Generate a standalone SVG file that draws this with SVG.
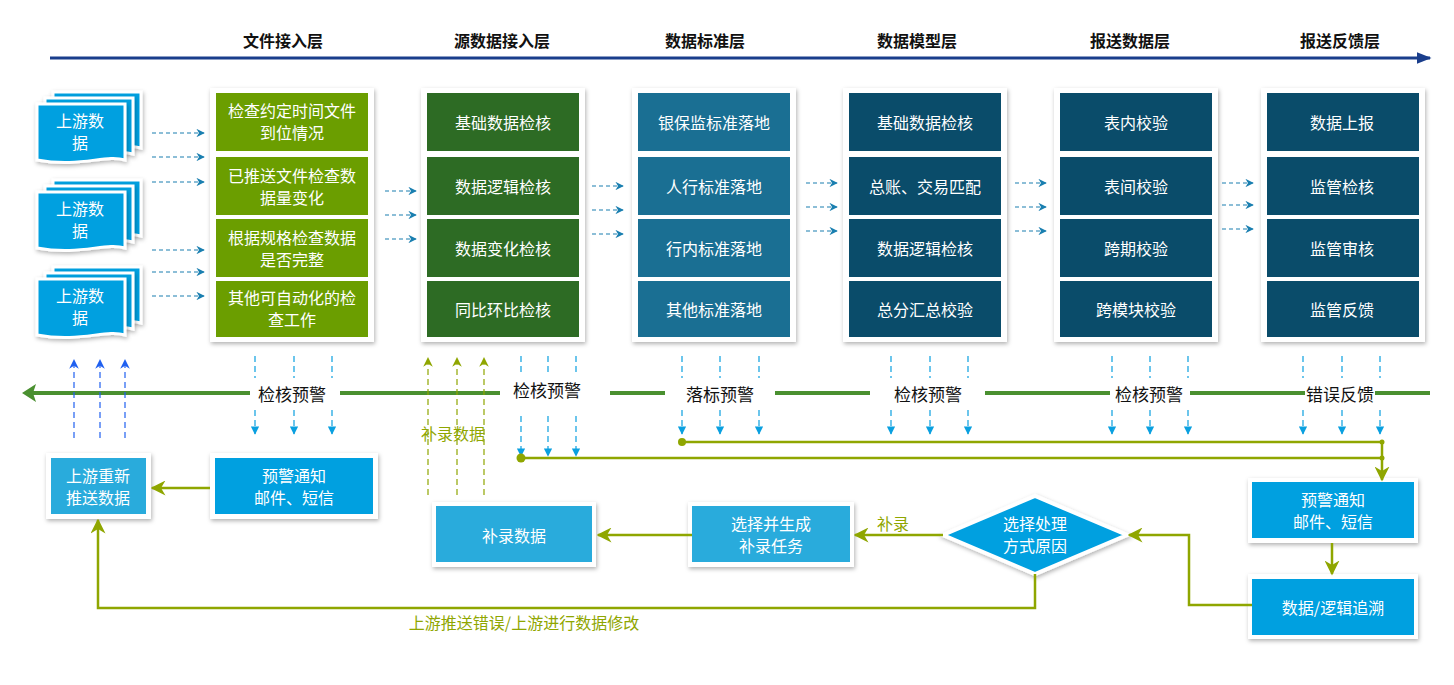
<svg xmlns="http://www.w3.org/2000/svg" width="1454" height="685" viewBox="0 0 1454 685">
<defs>
<filter id="sh" x="-10%" y="-10%" width="130%" height="130%"><feDropShadow dx="1" dy="2" stdDeviation="2" flood-color="#000" flood-opacity="0.3"/></filter>
<marker id="ab" viewBox="0 0 10 10" refX="9" refY="5" markerWidth="7" markerHeight="7" orient="auto"><path d="M0,0 L10,5 L0,10 L3,5z" fill="#1a7fb0"/></marker>
<marker id="ad" viewBox="0 0 10 10" refX="9" refY="5" markerWidth="7" markerHeight="7" orient="auto"><path d="M0,0 L10,5 L0,10z" fill="#0aa0e0"/></marker>
<marker id="au" viewBox="0 0 10 10" refX="9" refY="5" markerWidth="8" markerHeight="8" orient="auto"><path d="M0,0 L10,5 L0,10 L3,5z" fill="#2060f0"/></marker>
<marker id="ao" viewBox="0 0 10 10" refX="9" refY="5" markerWidth="6" markerHeight="6" orient="auto"><path d="M0,0 L10,5 L0,10 L3,5z" fill="#8fa600"/></marker>
<marker id="ao2" viewBox="0 0 10 10" refX="9" refY="5" markerWidth="8" markerHeight="8" orient="auto"><path d="M0,0 L10,5 L0,10 L3,5z" fill="#8fa600"/></marker>
<marker id="ag" viewBox="0 0 10 10" refX="9" refY="5" markerWidth="5" markerHeight="5" orient="auto"><path d="M0,0 L10,5 L0,10 L3,5z" fill="#4a9030"/></marker>
<marker id="an" viewBox="0 0 10 10" refX="9" refY="5" markerWidth="5" markerHeight="5" orient="auto"><path d="M0,1 L10,5 L0,9z" fill="#1a3e8c"/></marker>
<g id="doc">
<path d="M16,-12 h88 v56 c-20,-6 -44,8 -88,0z" fill="#00a0e0" stroke="#fff" stroke-width="3" filter="url(#sh)"/>
<path d="M8,-6 h88 v56 c-20,-6 -44,8 -88,0z" fill="#00a0e0" stroke="#fff" stroke-width="3" filter="url(#sh)"/>
<path d="M0,0 h88 v56 c-20,-6 -44,8 -88,0z" fill="#00a0e0" stroke="#fff" stroke-width="3" filter="url(#sh)"/>
</g>
<line id="hr" x1="0" y1="0" x2="52" y2="0" stroke="#1a7fb0" stroke-width="1.2" stroke-dasharray="4,3" marker-end="url(#ab)"/>
<line id="hs" x1="0" y1="0" x2="31" y2="0" stroke="#1a7fb0" stroke-width="1.2" stroke-dasharray="4,3" marker-end="url(#ab)"/>
<g id="dn">
<line x1="0" y1="356" x2="0" y2="378" stroke="#0aa0e0" stroke-width="1.2" stroke-dasharray="6,4"/>
<line x1="0" y1="410" x2="0" y2="434" stroke="#0aa0e0" stroke-width="1.2" stroke-dasharray="6,4" marker-end="url(#ad)"/>
</g>
<g id="dn2">
<line x1="0" y1="356" x2="0" y2="376" stroke="#0aa0e0" stroke-width="1.2" stroke-dasharray="6,4"/>
<line x1="0" y1="416" x2="0" y2="456" stroke="#0aa0e0" stroke-width="1.2" stroke-dasharray="6,4" marker-end="url(#ad)"/>
</g>
<line id="up" x1="0" y1="438" x2="0" y2="360" stroke="#2060f0" stroke-width="1.2" stroke-dasharray="6,4" marker-end="url(#au)"/>
<line id="upo" x1="0" y1="495" x2="0" y2="358" stroke="#8fa600" stroke-width="1.2" stroke-dasharray="6,4" marker-end="url(#ao2)"/>
</defs>
<style>
text{font-family:"Noto Sans CJK SC","Liberation Sans",sans-serif;text-anchor:middle;dominant-baseline:central}
.w{fill:#fff;font-size:16px}
.h{font-size:16px;font-weight:bold;fill:#111}
.l{font-size:17px;fill:#111}
.o{font-size:16px;fill:#8fa600}
.card{fill:#fff;filter:url(#sh)}
.c1{fill:#6b9e00}.c2{fill:#2d6b24}.c3{fill:#1a6f93}.c4{fill:#0a4c6a}.b1{fill:#00a0e0}.b2{fill:#29abdc}
.ol{stroke:#8fa600;stroke-width:2.5;fill:none}
</style>
<g id="header">
<line x1="50" y1="58" x2="1430" y2="58" stroke="#1a3e8c" stroke-width="3" marker-end="url(#an)"/>
<text class="h" x="283" y="40">文件接入层</text><text class="h" x="502" y="40">源数据接入层</text><text class="h" x="705" y="40">数据标准层</text><text class="h" x="917" y="40">数据模型层</text><text class="h" x="1130" y="40">报送数据层</text><text class="h" x="1340" y="40">报送反馈层</text>
</g>
<g id="docs">
<use href="#doc" x="37" y="104"/><text class="w" x="80" y="120">上游数</text><text class="w" x="80" y="142">据</text>
<use href="#doc" x="37" y="192"/><text class="w" x="80" y="208">上游数</text><text class="w" x="80" y="230">据</text>
<use href="#doc" x="37" y="279"/><text class="w" x="80" y="295">上游数</text><text class="w" x="80" y="317">据</text>
</g>
<g id="col-file">
<rect class="card" x="210" y="88" width="164" height="254"/>
<rect class="c1" x="216" y="93" width="152" height="58"/><text class="w" x="292" y="110">检查约定时间文件</text><text class="w" x="292" y="132">到位情况</text>
<rect class="c1" x="216" y="157" width="152" height="58"/><text class="w" x="292" y="175">已推送文件检查数</text><text class="w" x="292" y="197">据量变化</text>
<rect class="c1" x="216" y="219" width="152" height="58"/><text class="w" x="292" y="237">根据规格检查数据</text><text class="w" x="292" y="259">是否完整</text>
<rect class="c1" x="216" y="281" width="152" height="56"/><text class="w" x="292" y="297">其他可自动化的检</text><text class="w" x="292" y="319">查工作</text>
</g>
<g id="col-src">
<rect class="card" x="421" y="88" width="164" height="254"/>
<rect class="c2" x="427" y="93" width="152" height="58"/><text class="w" x="503" y="122">基础数据检核</text>
<rect class="c2" x="427" y="157" width="152" height="58"/><text class="w" x="503" y="186">数据逻辑检核</text>
<rect class="c2" x="427" y="219" width="152" height="58"/><text class="w" x="503" y="248">数据变化检核</text>
<rect class="c2" x="427" y="281" width="152" height="56"/><text class="w" x="503" y="309">同比环比检核</text>
</g>
<g id="col-std">
<rect class="card" x="632" y="88" width="164" height="254"/>
<rect class="c3" x="638" y="93" width="152" height="58"/><text class="w" x="714" y="122">银保监标准落地</text>
<rect class="c3" x="638" y="157" width="152" height="58"/><text class="w" x="714" y="186">人行标准落地</text>
<rect class="c3" x="638" y="219" width="152" height="58"/><text class="w" x="714" y="248">行内标准落地</text>
<rect class="c3" x="638" y="281" width="152" height="56"/><text class="w" x="714" y="309">其他标准落地</text>
</g>
<g id="col-model">
<rect class="card" x="843" y="88" width="164" height="254"/>
<rect class="c4" x="849" y="93" width="152" height="58"/><text class="w" x="925" y="122">基础数据检核</text>
<rect class="c4" x="849" y="157" width="152" height="58"/><text class="w" x="925" y="186">总账、交易匹配</text>
<rect class="c4" x="849" y="219" width="152" height="58"/><text class="w" x="925" y="248">数据逻辑检核</text>
<rect class="c4" x="849" y="281" width="152" height="56"/><text class="w" x="925" y="309">总分汇总校验</text>
</g>
<g id="col-report">
<rect class="card" x="1054" y="88" width="164" height="254"/>
<rect class="c4" x="1060" y="93" width="152" height="58"/><text class="w" x="1136" y="122">表内校验</text>
<rect class="c4" x="1060" y="157" width="152" height="58"/><text class="w" x="1136" y="186">表间校验</text>
<rect class="c4" x="1060" y="219" width="152" height="58"/><text class="w" x="1136" y="248">跨期校验</text>
<rect class="c4" x="1060" y="281" width="152" height="56"/><text class="w" x="1136" y="309">跨模块校验</text>
</g>
<g id="col-feedback">
<rect class="card" x="1261" y="88" width="164" height="254"/>
<rect class="c4" x="1267" y="93" width="152" height="58"/><text class="w" x="1342" y="122">数据上报</text>
<rect class="c4" x="1267" y="157" width="152" height="58"/><text class="w" x="1342" y="186">监管检核</text>
<rect class="c4" x="1267" y="219" width="152" height="58"/><text class="w" x="1342" y="248">监管审核</text>
<rect class="c4" x="1267" y="281" width="152" height="56"/><text class="w" x="1342" y="309">监管反馈</text>
</g>
<g id="n-repush"><rect class="card" x="46" y="453" width="105" height="66"/><rect class="b2" x="51" y="458" width="95" height="56"/><text class="w" x="98" y="475">上游重新</text><text class="w" x="98" y="497">推送数据</text></g>
<g id="n-warn1"><rect class="card" x="210" y="453" width="168" height="66"/><rect class="b1" x="215" y="458" width="158" height="56"/><text class="w" x="294" y="475">预警通知</text><text class="w" x="294" y="497">邮件、短信</text></g>
<g id="n-bulu"><rect class="card" x="432" y="502" width="164" height="65"/><rect class="b2" x="436" y="506" width="156" height="56"/><text class="w" x="514" y="535">补录数据</text></g>
<g id="n-task"><rect class="card" x="688" y="502" width="166" height="65"/><rect class="b2" x="692" y="506" width="158" height="56"/><text class="w" x="771" y="523">选择并生成</text><text class="w" x="771" y="545">补录任务</text></g>
<g id="n-choose"><polygon points="943,535 1035,496 1127,535 1035,574" fill="#00a0e0" stroke="#fff" stroke-width="4" filter="url(#sh)"/><text class="w" x="1035" y="523">选择处理</text><text class="w" x="1035" y="545">方式原因</text></g>
<g id="n-warn2"><rect class="card" x="1248" y="478" width="170" height="65"/><rect class="b1" x="1252" y="482" width="162" height="56"/><text class="w" x="1333" y="499">预警通知</text><text class="w" x="1333" y="521">邮件、短信</text></g>
<g id="n-trace"><rect class="card" x="1248" y="574" width="170" height="65"/><rect class="b1" x="1252" y="579" width="162" height="56"/><text class="w" x="1333" y="607">数据/逻辑追溯</text></g>
<g id="connectors">
<use href="#hr" x="152" y="133"/><use href="#hr" x="152" y="157"/><use href="#hr" x="152" y="182"/><use href="#hr" x="152" y="250"/><use href="#hr" x="152" y="272"/><use href="#hr" x="152" y="296"/>
<use href="#hs" x="385" y="191"/><use href="#hs" x="385" y="215"/><use href="#hs" x="385" y="239"/>
<use href="#hs" x="592" y="186"/><use href="#hs" x="592" y="210"/><use href="#hs" x="592" y="234"/>
<use href="#hs" x="806" y="183"/><use href="#hs" x="806" y="207"/><use href="#hs" x="806" y="231"/>
<use href="#hs" x="1015" y="183"/><use href="#hs" x="1015" y="207"/><use href="#hs" x="1015" y="231"/>
<use href="#hs" x="1222" y="183"/><use href="#hs" x="1222" y="205"/><use href="#hs" x="1222" y="229"/>
<path d="M1430,393H1375M1305,393H1190M1110,393H985M870,393H775M665,393H610M500,393H340M250,393H30" stroke="#4a9030" stroke-width="4" fill="none"/>
<path d="M22,393 L36,384 L33,393 L36,402z" fill="#4a9030"/>
<use href="#dn" x="255"/><use href="#dn" x="294"/><use href="#dn" x="332"/>
<use href="#dn2" x="521"/><use href="#dn2" x="548"/><use href="#dn2" x="576"/>
<use href="#dn" x="682"/><use href="#dn" x="720"/><use href="#dn" x="759"/>
<use href="#dn" x="891"/><use href="#dn" x="930"/><use href="#dn" x="968"/>
<use href="#dn" x="1112"/><use href="#dn" x="1150"/><use href="#dn" x="1188"/>
<use href="#dn" x="1303"/><use href="#dn" x="1342"/><use href="#dn" x="1380"/>
<use href="#up" x="74"/><use href="#up" x="100"/><use href="#up" x="125"/>
<use href="#upo" x="428"/><use href="#upo" x="457"/><use href="#upo" x="484"/>
<path class="ol" d="M682,442H1382M521,458H1382"/>
<circle cx="682" cy="442" r="4" fill="#8fa600"/><circle cx="521" cy="458" r="4.5" fill="#8fa600"/><circle cx="1382" cy="442" r="2.5" fill="#8fa600"/><circle cx="1382" cy="458" r="2.5" fill="#8fa600"/>
<path class="ol" d="M1382,442V480" marker-end="url(#ao)"/>
<path class="ol" d="M1332,543V574" marker-end="url(#ao)"/>
<path class="ol" d="M210,488H152" marker-end="url(#ao)"/>
<path class="ol" d="M943,535H855" marker-end="url(#ao)"/>
<path class="ol" d="M692,535H598" marker-end="url(#ao)"/>
<path class="ol" d="M1252,605H1189V535H1129" marker-end="url(#ao)"/>
<path class="ol" d="M1035,574V608H98V520" marker-end="url(#ao)"/>
</g>
<g id="labels">
<text class="l" x="292" y="393">检核预警</text><text class="l" x="547" y="389">检核预警</text><text class="l" x="720" y="393">落标预警</text><text class="l" x="928" y="393">检核预警</text><text class="l" x="1149" y="393">检核预警</text><text class="l" x="1340" y="393">错误反馈</text>
<text class="o" x="453" y="433">补录数据</text><text class="o" x="893" y="523">补录</text><text class="o" x="524" y="622">上游推送错误/上游进行数据修改</text>
</g>
</svg>
